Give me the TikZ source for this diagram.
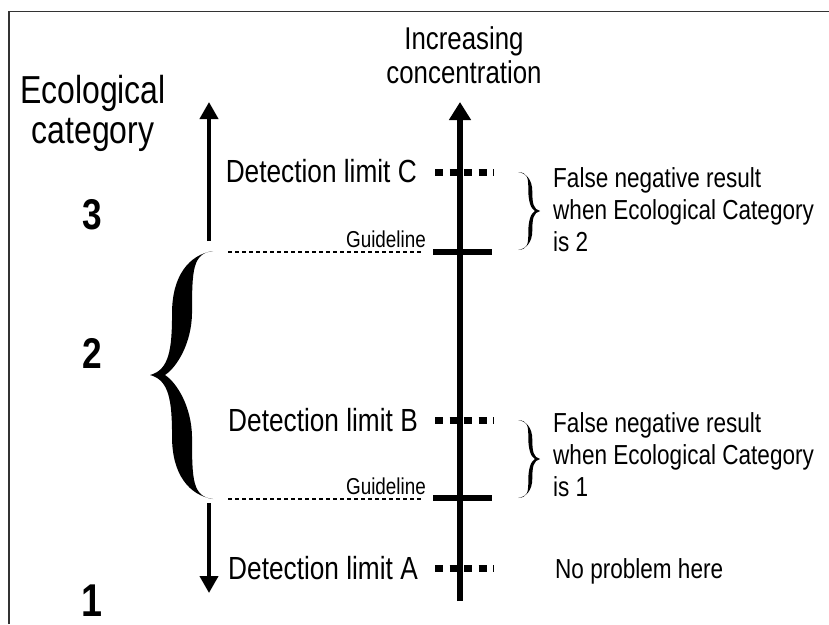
\documentclass[tikz,border=0pt]{standalone}
\usepackage{fontspec}
\setmainfont{Liberation Sans}[FakeStretch=0.82]
\usetikzlibrary{arrows.meta}
\tikzset{
  bracefill/.pic={
    \fill (1,-1) .. controls (0.62,-0.97) and (0.35,-0.8) .. (0.35,-0.5)
      .. controls (0.35,-0.2) and (0.3,-0.04) .. (0,0)
      .. controls (0.3,0.04) and (0.35,0.2) .. (0.35,0.5)
      .. controls (0.35,0.8) and (0.62,0.97) .. (1,1)
      .. controls ({#1+0.01},0.98) and ({#1},0.85) .. ({#1},0.5)
      .. controls ({#1-0.007},0.25) and (0.42,0.06) .. (0.238,0)
      .. controls (0.42,-0.06) and ({#1-0.007},-0.25) .. ({#1},-0.5)
      .. controls ({#1},-0.85) and ({#1+0.01},-0.98) .. (1,-1) -- cycle;
  },
  framel/.style={draw=black!80, line width=1.4pt},
  axisl/.style={line width=6.5pt, -{Triangle[width=21pt,length=18pt]}},
  catarrow/.style={line width=4pt, -{Triangle[width=18pt,length=17pt]}},
  guidetick/.style={line width=6.5pt},
  guidedot/.style={line width=2pt, dash pattern=on 4pt off 3pt},
  detdash/.style={line width=7pt, dash pattern=on 8pt off 6.5pt},
  detlab/.style={anchor=base east, inner sep=0pt, font=\fontsize{32}{38}\selectfont},
  glab/.style={anchor=base east, inner sep=0pt, font=\fontsize{23}{26}\selectfont},
  fnlab/.style={anchor=west, align=left, inner sep=0pt, font=\fontsize{27.5}{32}\selectfont},
  digit/.style={anchor=base, inner sep=0pt, font=\fontsize{43}{46}\selectfont\bfseries},
}
\begin{document}
\begin{tikzpicture}[x=1pt,y=-1pt]
\useasboundingbox (0,0) rectangle (829,624);
% frame (only top and left edges visible)
\draw[framel] (9,624) -- (9,11.5) -- (829,11.5);

% titles
\node[align=center, inner sep=0pt, font=\fontsize{39}{40}\selectfont] (eco) at (93,113) {Ecological\\category};
\node[align=center, inner sep=0pt, font=\fontsize{31.5}{34}\selectfont] (inc) at (464,55) {Increasing\\concentration};

% category digits
\node[digit] (c3) at (92,229) {3};
\node[digit] (c2) at (92,368) {2};
\node[digit, font=\fontsize{46}{50}\selectfont\bfseries] (c1) at (92,616) {1};

% main concentration axis
\coordinate (axB) at (460,601);
\coordinate (axT) at (460,102);
\draw[axisl] (axB) -- (axT);

% category arrows
\coordinate (u1) at (209,241);
\coordinate (u2) at (209,102);
\draw[catarrow] (u1) -- (u2);
\coordinate (d1) at (209,503);
\coordinate (d2) at (209,593);
\draw[catarrow] (d1) -- (d2);

% big brace for category 2
\pic[xscale=63, yscale=124] at (150,375) {bracefill=0.667};

% guidelines
\coordinate (g2a) at (433,252); \coordinate (g2b) at (492,252);
\coordinate (g1a) at (433,498); \coordinate (g1b) at (492,498);
\draw[guidetick] (g2a) -- (g2b);
\draw[guidetick] (g1a) -- (g1b);
\coordinate (gd2a) at (228,252); \coordinate (gd2b) at (423,252);
\coordinate (gd1a) at (228,499); \coordinate (gd1b) at (423,499);
\draw[guidedot] (gd2a) -- (gd2b);
\draw[guidedot] (gd1a) -- (gd1b);
\node[glab] (gl2) at (426,247) {Guideline};
\node[glab] (gl1) at (426,494) {Guideline};

% detection limits
\coordinate (dCa) at (435,172); \coordinate (dCb) at (494,172);
\coordinate (dBa) at (435,420); \coordinate (dBb) at (494,420);
\coordinate (dAa) at (435,568); \coordinate (dAb) at (494,568);
\draw[detdash] (dCa) -- (dCb);
\draw[detdash] (dBa) -- (dBb);
\draw[detdash] (dAa) -- (dAb);
\node[detlab] (lC) at (417,182) {Detection limit C};
\node[detlab] (lB) at (418,431) {Detection limit B};
\node[detlab] (lA) at (418,579) {Detection limit A};

% small braces and notes
\pic[xscale=-22, yscale=39] at (540,211) {bracefill=0.53};
\pic[xscale=-22, yscale=39] at (540,459) {bracefill=0.53};
\node[fnlab] (fC) at (553,210) {False negative result\\when Ecological Category\\is 2};
\node[fnlab] (fB) at (553,455) {False negative result\\when Ecological Category\\is 1};
\node[anchor=base west, inner sep=0pt, font=\fontsize{27.5}{32}\selectfont] (np) at (555,578) {No problem here};
\end{tikzpicture}
\end{document}
